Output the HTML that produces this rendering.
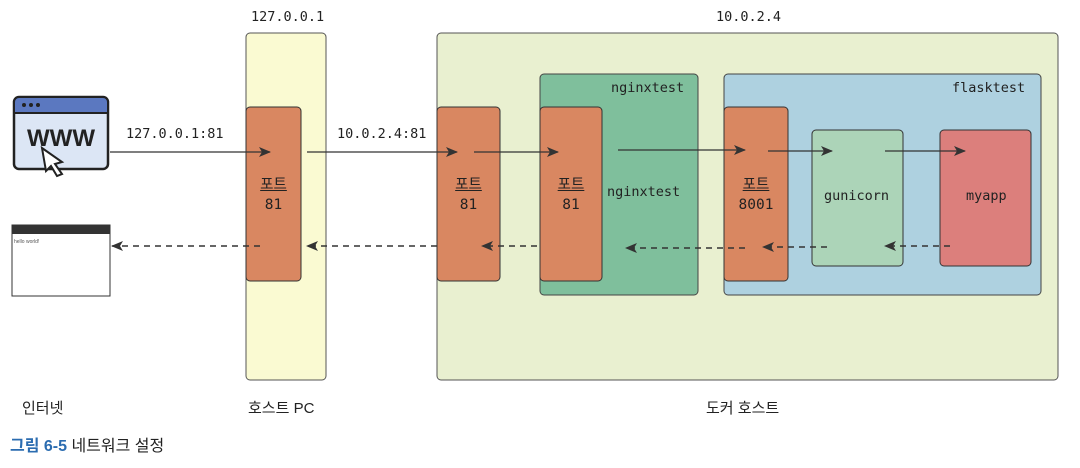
<!DOCTYPE html>
<html><head><meta charset="utf-8"><style>
body{margin:0;width:1080px;height:468px;background:#fff;overflow:hidden;font-family:"Liberation Sans","Noto Sans CJK KR",sans-serif}
.t{position:absolute;font-size:15px;color:#222}
.m{font-family:"DejaVu Sans Mono","Liberation Mono","Noto Sans CJK KR",monospace;font-size:13.5px;color:#222;position:absolute}
.p{font-size:14.5px}
</style></head><body>
<svg width="1080" height="468" style="position:absolute;left:0;top:0">
<defs><marker id="a" markerWidth="12" markerHeight="10" refX="11" refY="5" orient="auto" markerUnits="userSpaceOnUse"><path d="M0,0 L12,5 L0,10 L3,5z" fill="#333"/></marker></defs>
<rect x="246" y="33" width="80" height="347" rx="4" fill="#fafad2" stroke="#555"/>
<rect x="437" y="33" width="621" height="347" rx="4" fill="#e9f0d0" stroke="#555"/>
<rect x="540" y="74" width="158" height="221" rx="4" fill="#7fbf9c" stroke="#444"/>
<rect x="724" y="74" width="317" height="221" rx="4" fill="#aed1e0" stroke="#444"/>
<g fill="#d98761" stroke="#333">
<rect x="246" y="107" width="55" height="174" rx="4"/>
<rect x="437" y="107" width="63" height="174" rx="4"/>
<rect x="540" y="107" width="62" height="174" rx="4"/>
<rect x="724" y="107" width="64" height="174" rx="4"/>
</g>
<rect x="812" y="130" width="91" height="136" rx="4" fill="#acd4b8" stroke="#333"/>
<rect x="940" y="130" width="91" height="136" rx="4" fill="#dc7f7c" stroke="#333"/>
<rect x="14" y="97" width="94" height="72" rx="5" fill="#dce6f5" stroke="#222" stroke-width="2.5"/>
<path d="M14,110 V102 a5,5 0 0 1 5,-5 H103 a5,5 0 0 1 5,5 V113 H14z" fill="#5b78c0" stroke="#222" stroke-width="2"/>
<circle cx="24" cy="105" r="2" fill="#222"/><circle cx="31" cy="105" r="2" fill="#222"/><circle cx="38" cy="105" r="2" fill="#222"/>
<text x="61" y="146" font-family="Liberation Sans" font-weight="bold" font-size="24" text-anchor="middle" fill="#222">WWW</text>
<path d="M42,148 L62,162 L55,164 L62,174 L57,176 L51,166 L46,171z" fill="#fff" stroke="#222" stroke-width="2"/>
<rect x="12" y="225" width="98" height="71" fill="#fff" stroke="#333"/>
<rect x="12" y="225" width="98" height="9" fill="#333"/>
<text x="14" y="243" font-size="5" fill="#555">hello world!</text>
<g stroke="#333" stroke-width="1.3" fill="none" marker-end="url(#a)">
<line x1="110" y1="152" x2="270" y2="152"/>
<line x1="307" y1="152" x2="457" y2="152"/>
<line x1="474" y1="152" x2="558" y2="152"/>
<line x1="618" y1="150" x2="745" y2="150"/>
<line x1="768" y1="151" x2="832" y2="151"/>
<line x1="885" y1="151" x2="965" y2="151"/>
</g>
<g stroke="#333" stroke-width="1.5" fill="none" stroke-dasharray="6,5" marker-end="url(#a)">
<line x1="260" y1="246" x2="112" y2="246"/>
<line x1="437" y1="246" x2="307" y2="246"/>
<line x1="537" y1="246" x2="482" y2="246"/>
<line x1="745" y1="248" x2="626" y2="248"/>
<line x1="827" y1="247" x2="763" y2="247"/>
<line x1="950" y1="246" x2="885" y2="246"/>
</g>
</svg>
<div class="m" style="left:251px;top:9px">127.0.0.1</div>
<div class="m" style="left:716px;top:9px">10.0.2.4</div>
<div class="m" style="left:126px;top:126px">127.0.0.1:81</div>
<div class="m" style="left:337px;top:126px">10.0.2.4:81</div>
<div class="m" style="left:611px;top:80px">nginxtest</div>
<div class="m" style="left:952px;top:80px">flasktest</div>
<div class="m" style="left:607px;top:184px">nginxtest</div>
<div class="m" style="left:824px;top:188px">gunicorn</div>
<div class="m" style="left:966px;top:188px">myapp</div>
<div class="m p" style="left:246px;width:55px;top:175px;text-align:center;line-height:20px"><u>포트</u><br>81</div>
<div class="m p" style="left:437px;width:63px;top:175px;text-align:center;line-height:20px"><u>포트</u><br>81</div>
<div class="m p" style="left:540px;width:62px;top:175px;text-align:center;line-height:20px"><u>포트</u><br>81</div>
<div class="m p" style="left:724px;width:64px;top:175px;text-align:center;line-height:20px"><u>포트</u><br>8001</div>
<div class="t" style="left:22px;top:397px">인터넷</div>
<div class="t" style="left:248px;top:397px">호스트 PC</div>
<div class="t" style="left:706px;top:397px">도커 호스트</div>
<div class="t" style="left:10px;top:432px;font-size:16px"><b style="color:#2b6cb0">그림 6-5</b> 네트워크 설정</div>
</body></html>
